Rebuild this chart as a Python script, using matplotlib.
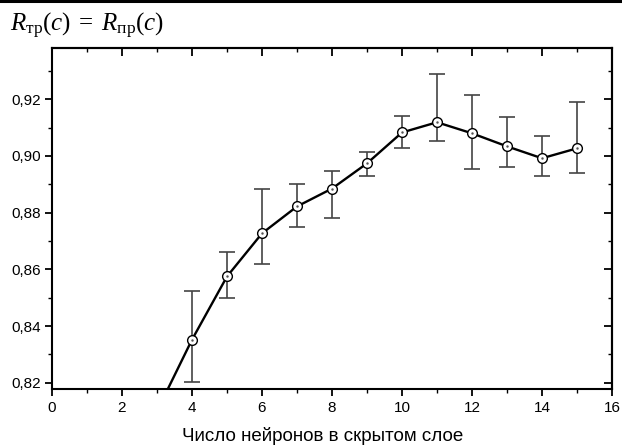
import matplotlib
matplotlib.use("Agg")
import matplotlib.pyplot as plt
from matplotlib.lines import Line2D
from matplotlib.ticker import MultipleLocator, FuncFormatter

# Data
neurons = [3, 4, 5, 6, 7, 8, 9, 10, 11, 12, 13, 14, 15]
accuracy = [0.810, 0.8352, 0.8575, 0.8727, 0.8822, 0.8885, 0.8974, 0.9083, 0.9119, 0.9080, 0.9034, 0.8992, 0.9027]
err_low = [0.005, 0.0149, 0.0075, 0.0107, 0.0074, 0.0102, 0.0046, 0.0056, 0.0067, 0.0127, 0.0074, 0.0064, 0.0087]
err_high = [0.004, 0.0173, 0.0085, 0.0155, 0.0078, 0.0061, 0.0039, 0.0057, 0.0169, 0.0134, 0.0102, 0.0078, 0.0163]
x_label = "Число нейронов в скрытом слое"
title = r"$R_{\mathrm{тр}}(c)\;=\;R_{\mathrm{пр}}(c)$"

plt.rcParams['mathtext.fontset'] = 'custom'
plt.rcParams['mathtext.rm'] = 'Liberation Serif'
plt.rcParams['mathtext.it'] = 'Liberation Serif:italic'
plt.rcParams['font.family'] = ['Liberation Sans', 'DejaVu Sans']

fig = plt.figure(figsize=(6.22, 4.45), dpi=100)
ax = fig.add_axes([52/622, 1-389/445, 560/622, 341/445])

ax.errorbar(neurons, accuracy, yerr=[err_low, err_high], fmt='none',
            ecolor='#444444', elinewidth=1.2, capsize=6, capthick=1.2, zorder=2)
ax.plot(neurons, accuracy, color='black', lw=1.7, zorder=3)
ax.plot(neurons, accuracy, 'o', ms=7, mfc='white', mec='black', mew=1.0, zorder=4)
ax.plot(neurons, accuracy, '.', ms=1.5, color='#555555', zorder=5)

ax.set_xlim(0, 16)
ax.set_ylim(0.8178, 0.9381)
ax.xaxis.set_major_locator(MultipleLocator(2))
ax.xaxis.set_minor_locator(MultipleLocator(1))
ax.yaxis.set_major_locator(MultipleLocator(0.02))
ax.yaxis.set_minor_locator(MultipleLocator(0.01))
ax.yaxis.set_major_formatter(FuncFormatter(lambda v, p: f"{v:.2f}".replace('.', ',')))

for s in ax.spines.values():
    s.set_linewidth(1.5)

ax.tick_params(axis='both', which='both', labelsize=11, colors='black')
ax.tick_params(which='major', length=5, width=1.3)
ax.tick_params(which='minor', length=3, width=1.0)
ax.tick_params(axis='y', pad=3)
# Inward ticks on top and right via secondary axes
secx = ax.secondary_xaxis('top')
secx.xaxis.set_major_locator(MultipleLocator(2))
secx.xaxis.set_minor_locator(MultipleLocator(1))
secx.tick_params(which='both', direction='in', labeltop=False)
secx.tick_params(which='major', length=6, width=1.3)
secx.tick_params(which='minor', length=3, width=1.0)
secy = ax.secondary_yaxis('right')
secy.yaxis.set_major_locator(MultipleLocator(0.02))
secy.yaxis.set_minor_locator(MultipleLocator(0.01))
secy.tick_params(which='both', direction='in', labelright=False)
secy.tick_params(which='major', length=6, width=1.3)
secy.tick_params(which='minor', length=3, width=1.0)
for sa in (secx, secy):
    for s in sa.spines.values():
        s.set_linewidth(1.5)

ax.set_xlabel(x_label, fontsize=13.5)
ax.xaxis.set_label_coords(0.483, -0.11)

fig.text(10/622, 1-26/445, title, fontsize=18, va='center', ha='left')
fig.add_artist(Line2D([0, 1], [1-1/445, 1-1/445], color='black', lw=2.2, transform=fig.transFigure))

fig.savefig("out.png", dpi=100)
